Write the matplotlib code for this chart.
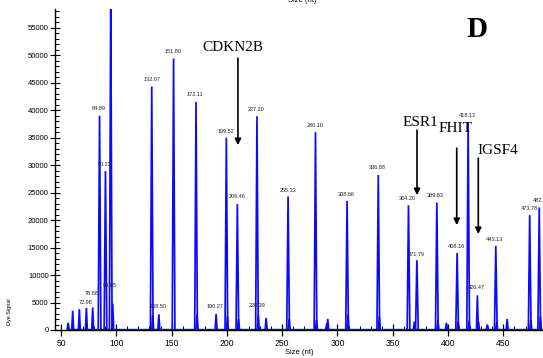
import numpy as np
import matplotlib
matplotlib.use("Agg")
import matplotlib.pyplot as plt
from matplotlib.ticker import MultipleLocator

# ==============================
# DATA
# ==============================

# peak centres (nt) and heights (dye signal)
peak_size = [56.5, 60.6, 66.6, 72.98, 78.68, 84.89, 90.23, 95.0, 96.8,
             132.07, 132.9, 138.50, 151.80, 172.11, 173.0, 190.27, 199.52, 200.5,
             209.46, 210.5, 227.20, 228.39, 235.5, 255.33, 256.3, 280.10, 281.0,
             290.3, 291.2, 308.66, 309.5, 336.88, 337.8, 364.20, 369.5, 371.79,
             389.83, 390.8, 398.5, 408.16, 409.0, 418.12, 419.0, 426.47, 427.5,
             435.5, 443.13, 444.0, 453.4, 473.78, 474.8, 482.4, 483.4]
peak_height = [1300, 3500, 3800, 4000, 4100, 39000, 28900, 62000, 4800,
               44300, 2700, 2850, 49400, 41500, 2800, 2900, 35000, 2500,
               22900, 2000, 38900, 2700, 2200, 24300, 2000, 36000, 1800,
               1200, 2000, 23500, 2800, 28200, 2500, 22700, 1500, 12700,
               23200, 1800, 1300, 14000, 1600, 37800, 1700, 6300, 1500,
               1000, 15300, 1500, 2000, 20900, 1800, 22300, 2500]

# size labels printed by the analysis software
label_text = ["72.98", "78.68", "84.89", "90.23", "94.85", "132.07", "138.50",
              "151.80", "172.11", "190.27", "199.52", "209.46", "227.20", "228.39",
              "255.33", "280.10", "308.66", "336.88", "364.20", "371.79", "389.83",
              "408.16", "418.12", "426.47", "443.13", "473.78", "482.4"]
label_x = [72.3, 78.0, 84.4, 89.8, 94.3, 132.0, 138.0, 151.1, 171.2, 189.2,
           199.0, 209.1, 226.3, 227.7, 255.0, 279.7, 307.7, 335.7, 363.5,
           371.0, 388.8, 407.1, 417.1, 425.2, 442.4, 473.1, 482.8]
label_y = [5040, 6670, 40300, 30180, 8180, 45580, 4240, 50600, 42900, 4240,
           36180, 24240, 40180, 4420, 25450, 37270, 24730, 29500, 23940,
           13820, 24540, 15270, 39090, 7700, 16540, 22180, 23630]

# gene annotations: name, text position, arrow x, arrow start/end
gene_name = ["CDKN2B", "ESR1", "FHIT", "IGSF4"]
gene_text_x = [205.5, 374.6, 407.1, 445.0]
gene_text_y = [51450, 37700, 36700, 32600]
arrow_x = [210.0, 371.9, 407.8, 427.3]
arrow_top = [49450, 36360, 33090, 31270]
arrow_tip = [33630, 24540, 19090, 17450]

# ==============================
# PLOT
# ==============================

fig = plt.figure(figsize=(5.43, 3.58), dpi=100)
ax = fig.add_axes([55 / 543, 28 / 358, 488 / 543, 321 / 358])

blue = "#0a0aff"

# baseline
ax.plot([55, 486], [250, 250], color=blue, linewidth=1.0)

# each peak drawn as a narrow spike
for c, h in zip(peak_size, peak_height):
    w = 1.2 if h > 10000 else 0.8
    ax.plot([c - w, c, c + w], [250, h, 250], color=blue, linewidth=1.25,
            solid_joinstyle="miter")

for t, x, y in zip(label_text, label_x, label_y):
    ax.text(x, y, t, fontsize=4, ha="center", va="center",
            family="Liberation Sans", color="#222222")

for name, tx, ty, ax_x, a0, a1 in zip(gene_name, gene_text_x, gene_text_y,
                                     arrow_x, arrow_top, arrow_tip):
    ax.text(tx, ty, name, fontsize=11, ha="center", va="center",
            family="Liberation Serif")
    ax.annotate("", xy=(ax_x, a1), xytext=(ax_x, a0),
                arrowprops=dict(arrowstyle="-|>", color="black", lw=1.2,
                                mutation_scale=9, shrinkA=0, shrinkB=0))

ax.text(426, 54700, "D", fontsize=21, fontweight="bold", ha="center",
        va="center", family="Liberation Serif")

ax.set_xlim(44.6, 485.8)
ax.set_ylim(0, 58400)

ax.xaxis.set_major_locator(MultipleLocator(50))
ax.xaxis.set_minor_locator(MultipleLocator(10))
ax.yaxis.set_major_locator(MultipleLocator(5000))
ax.yaxis.set_minor_locator(MultipleLocator(1000))

ax.spines["top"].set_visible(False)
ax.spines["right"].set_visible(False)
ax.spines["left"].set_linewidth(1.0)
ax.spines["bottom"].set_linewidth(1.0)

ax.tick_params(axis="y", which="major", direction="inout", length=7,
               width=0.8, labelsize=5.5, pad=1)
ax.tick_params(axis="y", which="minor", direction="in", length=3, width=0.7)
ax.tick_params(axis="x", which="major", direction="inout", length=9,
               width=0.9, labelsize=6.2, pad=2)
ax.tick_params(axis="x", which="minor", direction="in", length=3, width=0.7)
for lab in ax.get_xticklabels() + ax.get_yticklabels():
    lab.set_family("Liberation Sans")

ax.set_xlabel("Size (nt)", fontsize=5.5, family="Liberation Sans", labelpad=1)
fig.text(10 / 543, 1 - 312 / 358, "Dye Signal", rotation=90, fontsize=4,
         ha="center", va="center", family="Liberation Sans")
fig.text(302 / 543, 1 - 1 / 358, "Size (nt)", fontsize=5.5, ha="center",
         va="center", family="Liberation Sans")

plt.savefig("out.png", dpi=100)
